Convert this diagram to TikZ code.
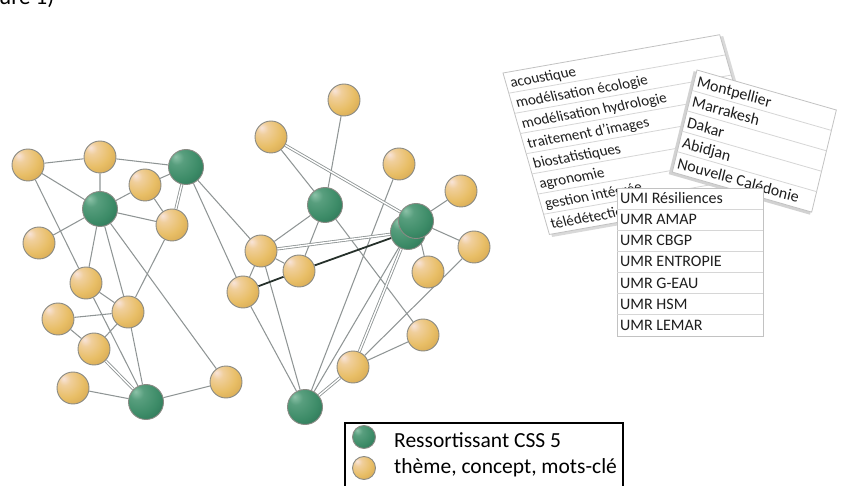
\documentclass[tikz,border=0pt]{standalone}
\usepackage{fontspec}
\setmainfont{Carlito}
\definecolor{yhi}{HTML}{F8E4DA}
\definecolor{ymidA}{HTML}{F0CF9C}
\definecolor{ymid}{HTML}{E8BE66}
\definecolor{ylo}{HTML}{C99843}
\definecolor{ghi}{HTML}{8CC2A8}
\definecolor{gmid}{HTML}{3C8B67}
\definecolor{glo}{HTML}{22604A}
\definecolor{ballline}{HTML}{8A8A84}
\definecolor{edgecol}{HTML}{8F9595}
\definecolor{darkedge}{HTML}{25302A}
\definecolor{cardline}{HTML}{C2C2C2}
\definecolor{rowline}{HTML}{D6D6D6}
\definecolor{txt}{HTML}{1E1E1E}
\pgfdeclareradialshading{yball}{\pgfpoint{-15bp}{15bp}}{color(0bp)=(yhi); color(9bp)=(ymidA); color(26bp)=(ymid); color(50bp)=(ylo); color(80bp)=(ylo)}
\pgfdeclareradialshading{gball}{\pgfpoint{-15bp}{15bp}}{color(0bp)=(ghi); color(10bp)=(gmid!65!ghi); color(28bp)=(gmid); color(52bp)=(glo); color(80bp)=(glo)}
\tikzset{
  yb/.style={circle, inner sep=0pt, minimum size=32pt, shading=yball, draw=ballline, line width=0.9pt},
  gb/.style={circle, inner sep=0pt, minimum size=35pt, shading=gball, draw=ballline, line width=0.9pt},
  edge/.style={draw=edgecol, line width=1.05pt},
  edgedbl/.style={draw=edgecol, line width=0.85pt, double=white, double distance=1.4pt},
  darkline/.style={draw=darkedge, line width=1.8pt},
  cardtext/.style={anchor=base west, inner sep=0pt, text=txt, font=\fontsize{15}{17}\selectfont},
  cardtextb/.style={cardtext, font=\fontsize{16}{18}\selectfont},
  legtext/.style={anchor=base west, inner sep=0pt, text=black, font=\fontsize{21.5}{24}\selectfont},
  cardframe/.style={draw=cardline, line width=0.8pt, fill=white},
  cardrow/.style={draw=rowline, line width=0.8pt},
}
\pgfdeclarelayer{bg}
\pgfsetlayers{bg,main}
\begin{document}
\begin{tikzpicture}[x=1pt,y=-1pt]
\useasboundingbox (0,0) rectangle (846,486);
\clip (0,0) rectangle (846,486);

\node[anchor=base west, inner sep=0pt, font=\fontsize{23}{25}\selectfont] (fig) at (-1,5) {ure 1)};

% ---------- nodes (left cluster)
\path
 (28,165) node[yb] (y1) {}
 (100,157) node[yb] (y2) {}
 (186,167) node[gb] (g1) {}
 (145,185) node[yb] (y3) {}
 (100,209) node[gb] (g2) {}
 (172,225) node[yb] (y4) {}
 (39,243) node[yb] (y5) {}
 (86,283) node[yb] (y6) {}
 (128,312) node[yb] (y7) {}
 (58,319) node[yb] (y8) {}
 (94,349) node[yb] (y9) {}
 (73,388) node[yb] (y10) {}
 (146,402) node[gb] (g3) {}
 (226,382) node[yb] (y11) {}
% ---------- nodes (middle cluster)
 (344,100) node[yb] (ya) {}
 (271,137) node[yb] (yb) {}
 (399,164) node[yb] (yc) {}
 (461,191) node[yb] (yd) {}
 (325,205) node[gb] (g4) {}
 (408,232) node[gb] (g5b) {}
 (416,221) node[gb] (g5) {}
 (474,247) node[yb] (ye) {}
 (261,251) node[yb] (yf) {}
 (299,271) node[yb] (yg) {}
 (428,272) node[yb] (yh) {}
 (243,292) node[yb] (yi) {}
 (423,335) node[yb] (yj) {}
 (353,367) node[yb] (yk) {}
 (305,407) node[gb] (g6) {};

% ---------- edges (behind the balls)
\begin{pgfonlayer}{bg}
\draw[edge] (y1)--(y2) (y2)--(g1) (y2)--(g2) (y1)--(g2) (y1)--(y6)
  (g2)--(y3) (g1)--(y3) (y3)--(y4) (g2)--(y4) (g2)--(y5) (g2)--(y6)
  (g2)--(y7) (g2)--(y11) (y4)--(y7) (g1)--(yf) (g1)--(yi) (y6)--(y7)
  (y6)--(g3) (y8)--(y7) (y8)--(y9) (y9)--(y7) (y7)--(g3) (y10)--(g3)
  (g3)--(y11);
\draw[edgedbl] (g1)--(y4) (y9)--(g3);
\draw[edge] (ya)--(g4) (yb)--(g4) (yc)--(g6) (yd)--(g5) (ye)--(g5)
  (g4)--(yf) (g4)--(yg) (g4)--(yj) (yf)--(yg) (yf)--(yi) (yf)--(g6)
  (yi)--(g6) (g5)--(yh) (g5b)--(g6) (yk)--(yj) (ye)--(yk);
\draw[edgedbl] (yb)--(g5) (yf)--(g5b) (g5b)--(yk) (yk)--(g6);
\draw[darkline] (yi)--(yg) (yg)--(g5b);
\end{pgfonlayer}

% ---------- card 1 (keywords)
\begin{scope}[shift={(503,73)}, cm={0.985,0.174,-0.276,0.961,(0,0)}, transform shape]
  \fill[gray!30] (2,2) rectangle (223,171);
  \path[cardframe] (0,0) rectangle (220,168);
  \foreach \i in {1,...,7} {\draw[cardrow] (0,21*\i) -- (220,21*\i);}
  \node[cardtext] (k1) at (4,16) {acoustique};
  \node[cardtext] (k2) at (4,37) {modélisation écologie};
  \node[cardtext] (k3) at (4,58) {modélisation hydrologie};
  \node[cardtext] (k4) at (4,79) {traitement d'images};
  \node[cardtext] (k5) at (4,100) {biostatistiques};
  \node[cardtext] (k6) at (4,121) {agronomie};
  \node[cardtext] (k7) at (4,142) {gestion intégrée};
  \node[cardtext] (k8) at (4,163) {télédétection};
\end{scope}

% ---------- card 2 (cities)
\begin{scope}[shift={(697,70)}, cm={0.961,-0.276,0.235,0.972,(0,0)}, transform shape]
  \fill[gray!35] (-3,2) rectangle (144,108);
  \path[cardframe] (0,0) rectangle (145,105);
  \foreach \i in {1,...,4} {\draw[cardrow] (0,21*\i) -- (145,21*\i);}
  \node[cardtextb] (c1) at (3,16) {Montpellier};
  \node[cardtextb] (c2) at (3,37) {Marrakesh};
  \node[cardtextb] (c3) at (3,58) {Dakar};
  \node[cardtextb] (c4) at (3,79) {Abidjan};
  \node[cardtextb] (c5) at (3,100) {Nouvelle Calédonie};
\end{scope}

% ---------- card 3 (units)
\begin{scope}[shift={(617,188)}]
  \path[cardframe] (0,0) rectangle (146,148);
  \foreach \i in {1,...,6} {\draw[cardrow] (0,21.14*\i) -- (146,21.14*\i);}
  \node[cardtextb] (u1) at (3,15.5) {UMI Résiliences};
  \node[cardtextb] (u2) at (3,36.6) {UMR AMAP};
  \node[cardtextb] (u3) at (3,57.8) {UMR CBGP};
  \node[cardtextb] (u4) at (3,78.9) {UMR ENTROPIE};
  \node[cardtextb] (u5) at (3,100.1) {UMR G-EAU};
  \node[cardtextb] (u6) at (3,121.2) {UMR HSM};
  \node[cardtextb] (u7) at (3,142.4) {UMR LEMAR};
\end{scope}

% ---------- legend
\draw[line width=2pt, fill=white] (345,423) rectangle (623,500);
\node[gb, minimum size=23pt] (lg) at (364,437) {};
\node[yb, minimum size=23pt] (ly) at (364,468) {};
\node[legtext] (lt1) at (394,447) {Ressortissant CSS 5};
\node[legtext] (lt2) at (394,473) {thème, concept, mots-clé};
\end{tikzpicture}
\end{document}
